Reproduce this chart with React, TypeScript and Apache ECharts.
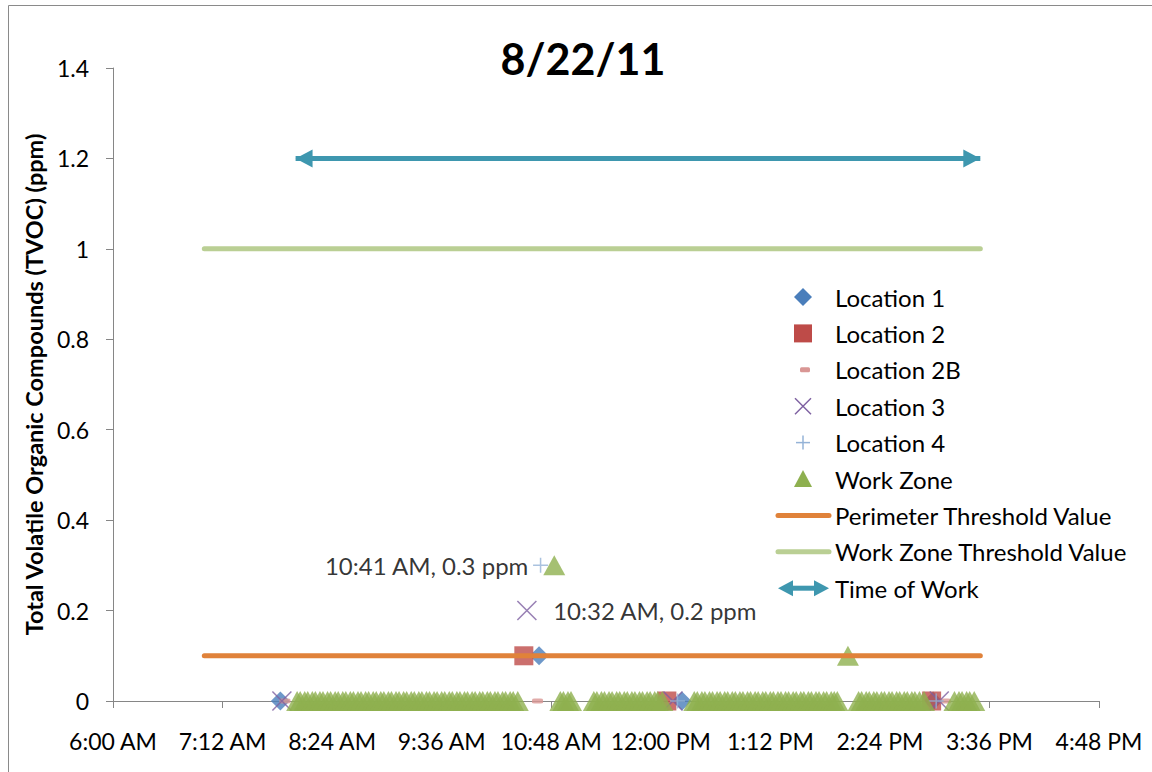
import { useEffect, useRef } from "react";
import * as echarts from "echarts";

// ---------- data ----------
const TITLE = "8/22/11";
const Y_AXIS_NAME = "Total Volatile Organic Compounds (TVOC) (ppm)";
const X_START = "6:00";
const X_END = "16:48";
const X_STEP_MIN = 72;
const Y_MIN = 0;
const Y_MAX = 1.4;
const Y_STEP = 0.2;

const location1: [string, number][] = [["7:50", 0], ["10:40", 0.1], ["12:14", 0], ["14:59", 0]];
const location2: [string, number][] = [["10:30", 0.1], ["12:04", 0], ["14:58", 0]];
const location2B: [string, number][] = [["7:53", 0], ["10:39", 0], ["15:07", 0]];
const location3: [string, number][] = [["7:51", 0], ["10:32", 0.2], ["12:08", 0], ["15:03", 0]];
const location4: [string, number][] = [["10:41", 0.3], ["12:11", 0], ["15:01", 0]];
const workZone: [string, number][] = [
  ["8:01", 0], ["8:03", 0], ["8:06", 0], ["8:08", 0], ["8:11", 0], ["8:13", 0], ["8:16", 0], ["8:18", 0],
  ["8:21", 0], ["8:23", 0], ["8:26", 0], ["8:28", 0], ["8:31", 0], ["8:33", 0], ["8:36", 0], ["8:38", 0],
  ["8:41", 0], ["8:43", 0], ["8:46", 0], ["8:48", 0], ["8:51", 0], ["8:53", 0], ["8:56", 0], ["8:58", 0],
  ["9:01", 0], ["9:03", 0], ["9:06", 0], ["9:08", 0], ["9:11", 0], ["9:13", 0], ["9:16", 0], ["9:18", 0],
  ["9:21", 0], ["9:23", 0], ["9:26", 0], ["9:28", 0], ["9:31", 0], ["9:33", 0], ["9:36", 0], ["9:38", 0],
  ["9:41", 0], ["9:43", 0], ["9:46", 0], ["9:48", 0], ["9:51", 0], ["9:53", 0], ["9:56", 0], ["9:58", 0],
  ["10:01", 0], ["10:03", 0], ["10:06", 0], ["10:08", 0], ["10:11", 0], ["10:13", 0], ["10:16", 0], ["10:18", 0],
  ["10:21", 0], ["10:23", 0], ["10:26", 0],
  ["10:50", 0.3],
  ["10:54", 0], ["10:56", 0], ["10:59", 0], ["11:01", 0],
  ["11:16", 0], ["11:18", 0], ["11:21", 0], ["11:23", 0], ["11:26", 0], ["11:28", 0], ["11:31", 0], ["11:33", 0],
  ["11:36", 0], ["11:38", 0], ["11:41", 0], ["11:43", 0], ["11:46", 0], ["11:48", 0], ["11:51", 0], ["11:53", 0],
  ["11:56", 0], ["11:58", 0], ["12:01", 0],
  ["12:22", 0], ["12:24", 0], ["12:27", 0], ["12:29", 0], ["12:32", 0], ["12:34", 0], ["12:37", 0], ["12:39", 0],
  ["12:42", 0], ["12:44", 0], ["12:47", 0], ["12:49", 0], ["12:52", 0], ["12:54", 0], ["12:57", 0], ["12:59", 0],
  ["13:02", 0], ["13:04", 0], ["13:07", 0], ["13:09", 0], ["13:12", 0], ["13:14", 0], ["13:17", 0], ["13:19", 0],
  ["13:22", 0], ["13:24", 0], ["13:27", 0], ["13:29", 0], ["13:32", 0], ["13:34", 0], ["13:37", 0], ["13:39", 0],
  ["13:42", 0], ["13:44", 0], ["13:47", 0], ["13:49", 0], ["13:52", 0], ["13:54", 0], ["13:56", 0],
  ["14:03", 0.1],
  ["14:10", 0], ["14:12", 0], ["14:15", 0], ["14:17", 0], ["14:20", 0], ["14:22", 0], ["14:25", 0], ["14:27", 0],
  ["14:30", 0], ["14:32", 0], ["14:35", 0], ["14:37", 0], ["14:40", 0], ["14:42", 0], ["14:45", 0], ["14:47", 0],
  ["14:50", 0], ["14:53", 0],
  ["15:13", 0], ["15:16", 0], ["15:18", 0], ["15:21", 0], ["15:23", 0], ["15:26", 0],
];
const perimeterThreshold: [string, number][] = [["7:00", 0.1], ["15:30", 0.1]];
const workZoneThreshold: [string, number][] = [["7:00", 1.0], ["15:30", 1.0]];
const timeOfWork: [string, number][] = [["8:00", 1.2], ["15:30", 1.2]];

// annotated readings: series name -> time
const annotations: { series: string; time: string; position: "left" | "right"; distance: number }[] = [
  { series: "Location 4", time: "10:41", position: "left", distance: 4 },
  { series: "Location 3", time: "10:32", position: "right", distance: 16 },
];

const LEGEND_ITEMS = [
  "Location 1",
  "Location 2",
  "Location 2B",
  "Location 3",
  "Location 4",
  "Work Zone",
  "Perimeter Threshold Value",
  "Work Zone Threshold Value",
  "Time of Work",
];

// ---------- styles ----------
const FONT = "Lato, 'Liberation Sans', sans-serif";
const C_LOC1 = "#4A7EBB";
const C_LOC2 = "#BE4B48";
const C_LOC2B = "#D99694";
const C_LOC3 = "#7D5FA0";
const C_LOC4 = "#95B3D7";
const C_WZ = "#8EB04F";
const C_PERIM = "#E0823A";
const C_WZT = "#BACF94";
const C_TOW = "#3E97AF";
const C_AXIS = "#868686";

const toMin = (s: string) => {
  const [h, m] = s.split(":").map(Number);
  return h * 60 + m;
};
const fmtTime = (v: number) => {
  const h = Math.floor(v / 60);
  const m = Math.round(v - h * 60);
  const ap = h >= 12 ? "PM" : "AM";
  const hh = h % 12 === 0 ? 12 : h % 12;
  return `${hh}:${String(m).padStart(2, "0")} ${ap}`;
};

function buildData(name: string, arr: [string, number][]) {
  return arr.map(([t, v]) => {
    const ann = annotations.find((a) => a.series === name && a.time === t);
    if (!ann) return [toMin(t), v];
    return {
      value: [toMin(t), v],
      label: {
        show: true,
        position: ann.position,
        distance: ann.distance,
        formatter: `${fmtTime(toMin(t))}, ${v} ppm`,
        fontSize: 24,
        color: "#000",
        fontFamily: FONT,
      },
    };
  });
}

function legendGraphics() {
  const els: any[] = [];
  const mx = 803;
  const tx = 835;
  const y0 = 297;
  const dy = 36.4;
  LEGEND_ITEMS.forEach((name, i) => {
    const y = y0 + i * dy;
    switch (i) {
      case 0:
        els.push({ type: "polygon", shape: { points: [[mx, y - 9], [mx + 9, y], [mx, y + 9], [mx - 9, y]] }, style: { fill: C_LOC1 } });
        break;
      case 1:
        els.push({ type: "rect", shape: { x: mx - 9, y: y - 9, width: 18, height: 18 }, style: { fill: C_LOC2 } });
        break;
      case 2:
        els.push({ type: "rect", shape: { x: mx - 3, y: y - 2.5, width: 10, height: 5, r: 1.5 }, style: { fill: C_LOC2B } });
        break;
      case 3:
        els.push({ type: "line", shape: { x1: mx - 8, y1: y - 8, x2: mx + 8, y2: y + 8 }, style: { stroke: C_LOC3, lineWidth: 1.5 } });
        els.push({ type: "line", shape: { x1: mx - 8, y1: y + 8, x2: mx + 8, y2: y - 8 }, style: { stroke: C_LOC3, lineWidth: 1.5 } });
        break;
      case 4:
        els.push({ type: "line", shape: { x1: mx - 7, y1: y, x2: mx + 7, y2: y }, style: { stroke: C_LOC4, lineWidth: 1.5 } });
        els.push({ type: "line", shape: { x1: mx, y1: y - 7, x2: mx, y2: y + 7 }, style: { stroke: C_LOC4, lineWidth: 1.5 } });
        break;
      case 5:
        els.push({ type: "polygon", shape: { points: [[mx, y - 9], [mx + 9, y + 8], [mx - 9, y + 8]] }, style: { fill: C_WZ } });
        break;
      case 6:
        els.push({ type: "line", shape: { x1: 778, y1: y, x2: 829, y2: y }, style: { stroke: C_PERIM, lineWidth: 5, lineCap: "round" } });
        break;
      case 7:
        els.push({ type: "line", shape: { x1: 778, y1: y, x2: 829, y2: y }, style: { stroke: C_WZT, lineWidth: 5, lineCap: "round" } });
        break;
      case 8:
        els.push({ type: "line", shape: { x1: 790, y1: y, x2: 816, y2: y }, style: { stroke: C_TOW, lineWidth: 5 } });
        els.push({ type: "polygon", shape: { points: [[778, y], [793, y - 8], [793, y + 8]] }, style: { fill: C_TOW } });
        els.push({ type: "polygon", shape: { points: [[829, y], [814, y - 8], [814, y + 8]] }, style: { fill: C_TOW } });
        break;
    }
    els.push({
      type: "text",
      x: tx,
      y,
      style: { text: name, fontSize: 24, fontFamily: FONT, fill: "#000", textVerticalAlign: "middle", textAlign: "left" },
    });
  });
  return els;
}

export default function App() {
  const ref = useRef<HTMLDivElement>(null);
  useEffect(() => {
    if (!ref.current) return;
    const chart = echarts.init(ref.current, null, { renderer: "svg" });
    const scatterBase = { type: "scatter", z: 2 } as any;
    const option: any = {
      animation: false,
      textStyle: { fontFamily: FONT },
      grid: { left: 113, right: 53, top: 68, bottom: 71 },
      xAxis: {
        type: "value",
        min: toMin(X_START),
        max: toMin(X_END),
        interval: X_STEP_MIN,
        axisLine: { show: true, lineStyle: { color: C_AXIS, width: 1 } },
        axisTick: { show: true, inside: false, length: 7, lineStyle: { color: C_AXIS } },
        splitLine: { show: false },
        axisLabel: { formatter: (v: number) => fmtTime(v), fontSize: 23, color: "#000", margin: 28, fontFamily: FONT },
      },
      yAxis: {
        type: "value",
        min: Y_MIN,
        max: Y_MAX,
        interval: Y_STEP,
        name: Y_AXIS_NAME,
        nameLocation: "middle",
        nameGap: 64,
        nameTextStyle: { fontSize: 23.5, fontWeight: "bold", color: "#000", fontFamily: FONT },
        axisLine: { show: true, lineStyle: { color: C_AXIS, width: 1 } },
        axisTick: { show: true, inside: false, length: 7, lineStyle: { color: C_AXIS } },
        splitLine: { show: false },
        axisLabel: { fontSize: 23, color: "#000", margin: 24, fontFamily: FONT },
      },
      graphic: [
        {
          type: "rect",
          silent: true,
          shape: { x: 8.5, y: 5.5, width: 1170, height: 800 },
          style: { fill: "none", stroke: "#8a8a8a", lineWidth: 1 },
        },
        {
          type: "text",
          x: 583,
          y: 58,
          style: { text: TITLE, fontSize: 43, fontWeight: "bold", fontFamily: FONT, fill: "#000", textAlign: "center", textVerticalAlign: "middle" },
        },
        ...legendGraphics(),
      ],
      series: [
        { ...scatterBase, name: "Location 1", symbol: "diamond", symbolSize: [19, 19], itemStyle: { color: C_LOC1 }, data: buildData("Location 1", location1) },
        { ...scatterBase, name: "Location 2", symbol: "rect", symbolSize: [19, 19], itemStyle: { color: C_LOC2 }, data: buildData("Location 2", location2) },
        { ...scatterBase, name: "Location 2B", symbol: "roundRect", symbolSize: [11, 5], itemStyle: { color: C_LOC2B }, data: buildData("Location 2B", location2B) },
        {
          ...scatterBase,
          name: "Location 3",
          symbol: "path://M0,0L10,10M10,0L0,10",
          symbolSize: [19, 19],
          itemStyle: { color: C_LOC3, borderColor: C_LOC3, borderWidth: 1.5 },
          data: buildData("Location 3", location3),
        },
        {
          ...scatterBase,
          name: "Location 4",
          symbol: "path://M5,0L5,10M0,5L10,5",
          symbolSize: [15, 15],
          itemStyle: { color: C_LOC4, borderColor: C_LOC4, borderWidth: 1.5 },
          data: buildData("Location 4", location4),
        },
        { ...scatterBase, name: "Work Zone", symbol: "triangle", symbolSize: [22, 20], itemStyle: { color: C_WZ }, data: buildData("Work Zone", workZone) },
        {
          type: "line",
          name: "Perimeter Threshold Value",
          z: 3,
          showSymbol: false,
          symbol: "none",
          lineStyle: { color: C_PERIM, width: 5, cap: "round" },
          data: perimeterThreshold.map(([t, v]) => [toMin(t), v]),
        },
        {
          type: "line",
          name: "Work Zone Threshold Value",
          z: 3,
          showSymbol: false,
          symbol: "none",
          lineStyle: { color: C_WZT, width: 5, cap: "round" },
          data: workZoneThreshold.map(([t, v]) => [toMin(t), v]),
        },
        {
          type: "line",
          name: "Time of Work",
          z: 3,
          data: [],
          markLine: {
            silent: true,
            symbol: ["triangle", "triangle"],
            symbolSize: [18, 17],
            symbolOffset: [[0, 8.5], [0, 8.5]],
            label: { show: false },
            lineStyle: { color: C_TOW, width: 5, type: "solid" },
            data: [
              [
                { coord: [toMin(timeOfWork[0][0]), timeOfWork[0][1]] },
                { coord: [toMin(timeOfWork[1][0]), timeOfWork[1][1]] },
              ],
            ],
          },
        },
      ],
    };
    chart.setOption(option);
    return () => chart.dispose();
  }, []);
  return <div ref={ref} style={{ position: "absolute", left: 0, top: 0, width: 1152, height: 772, background: "#fff" }} />;
}
